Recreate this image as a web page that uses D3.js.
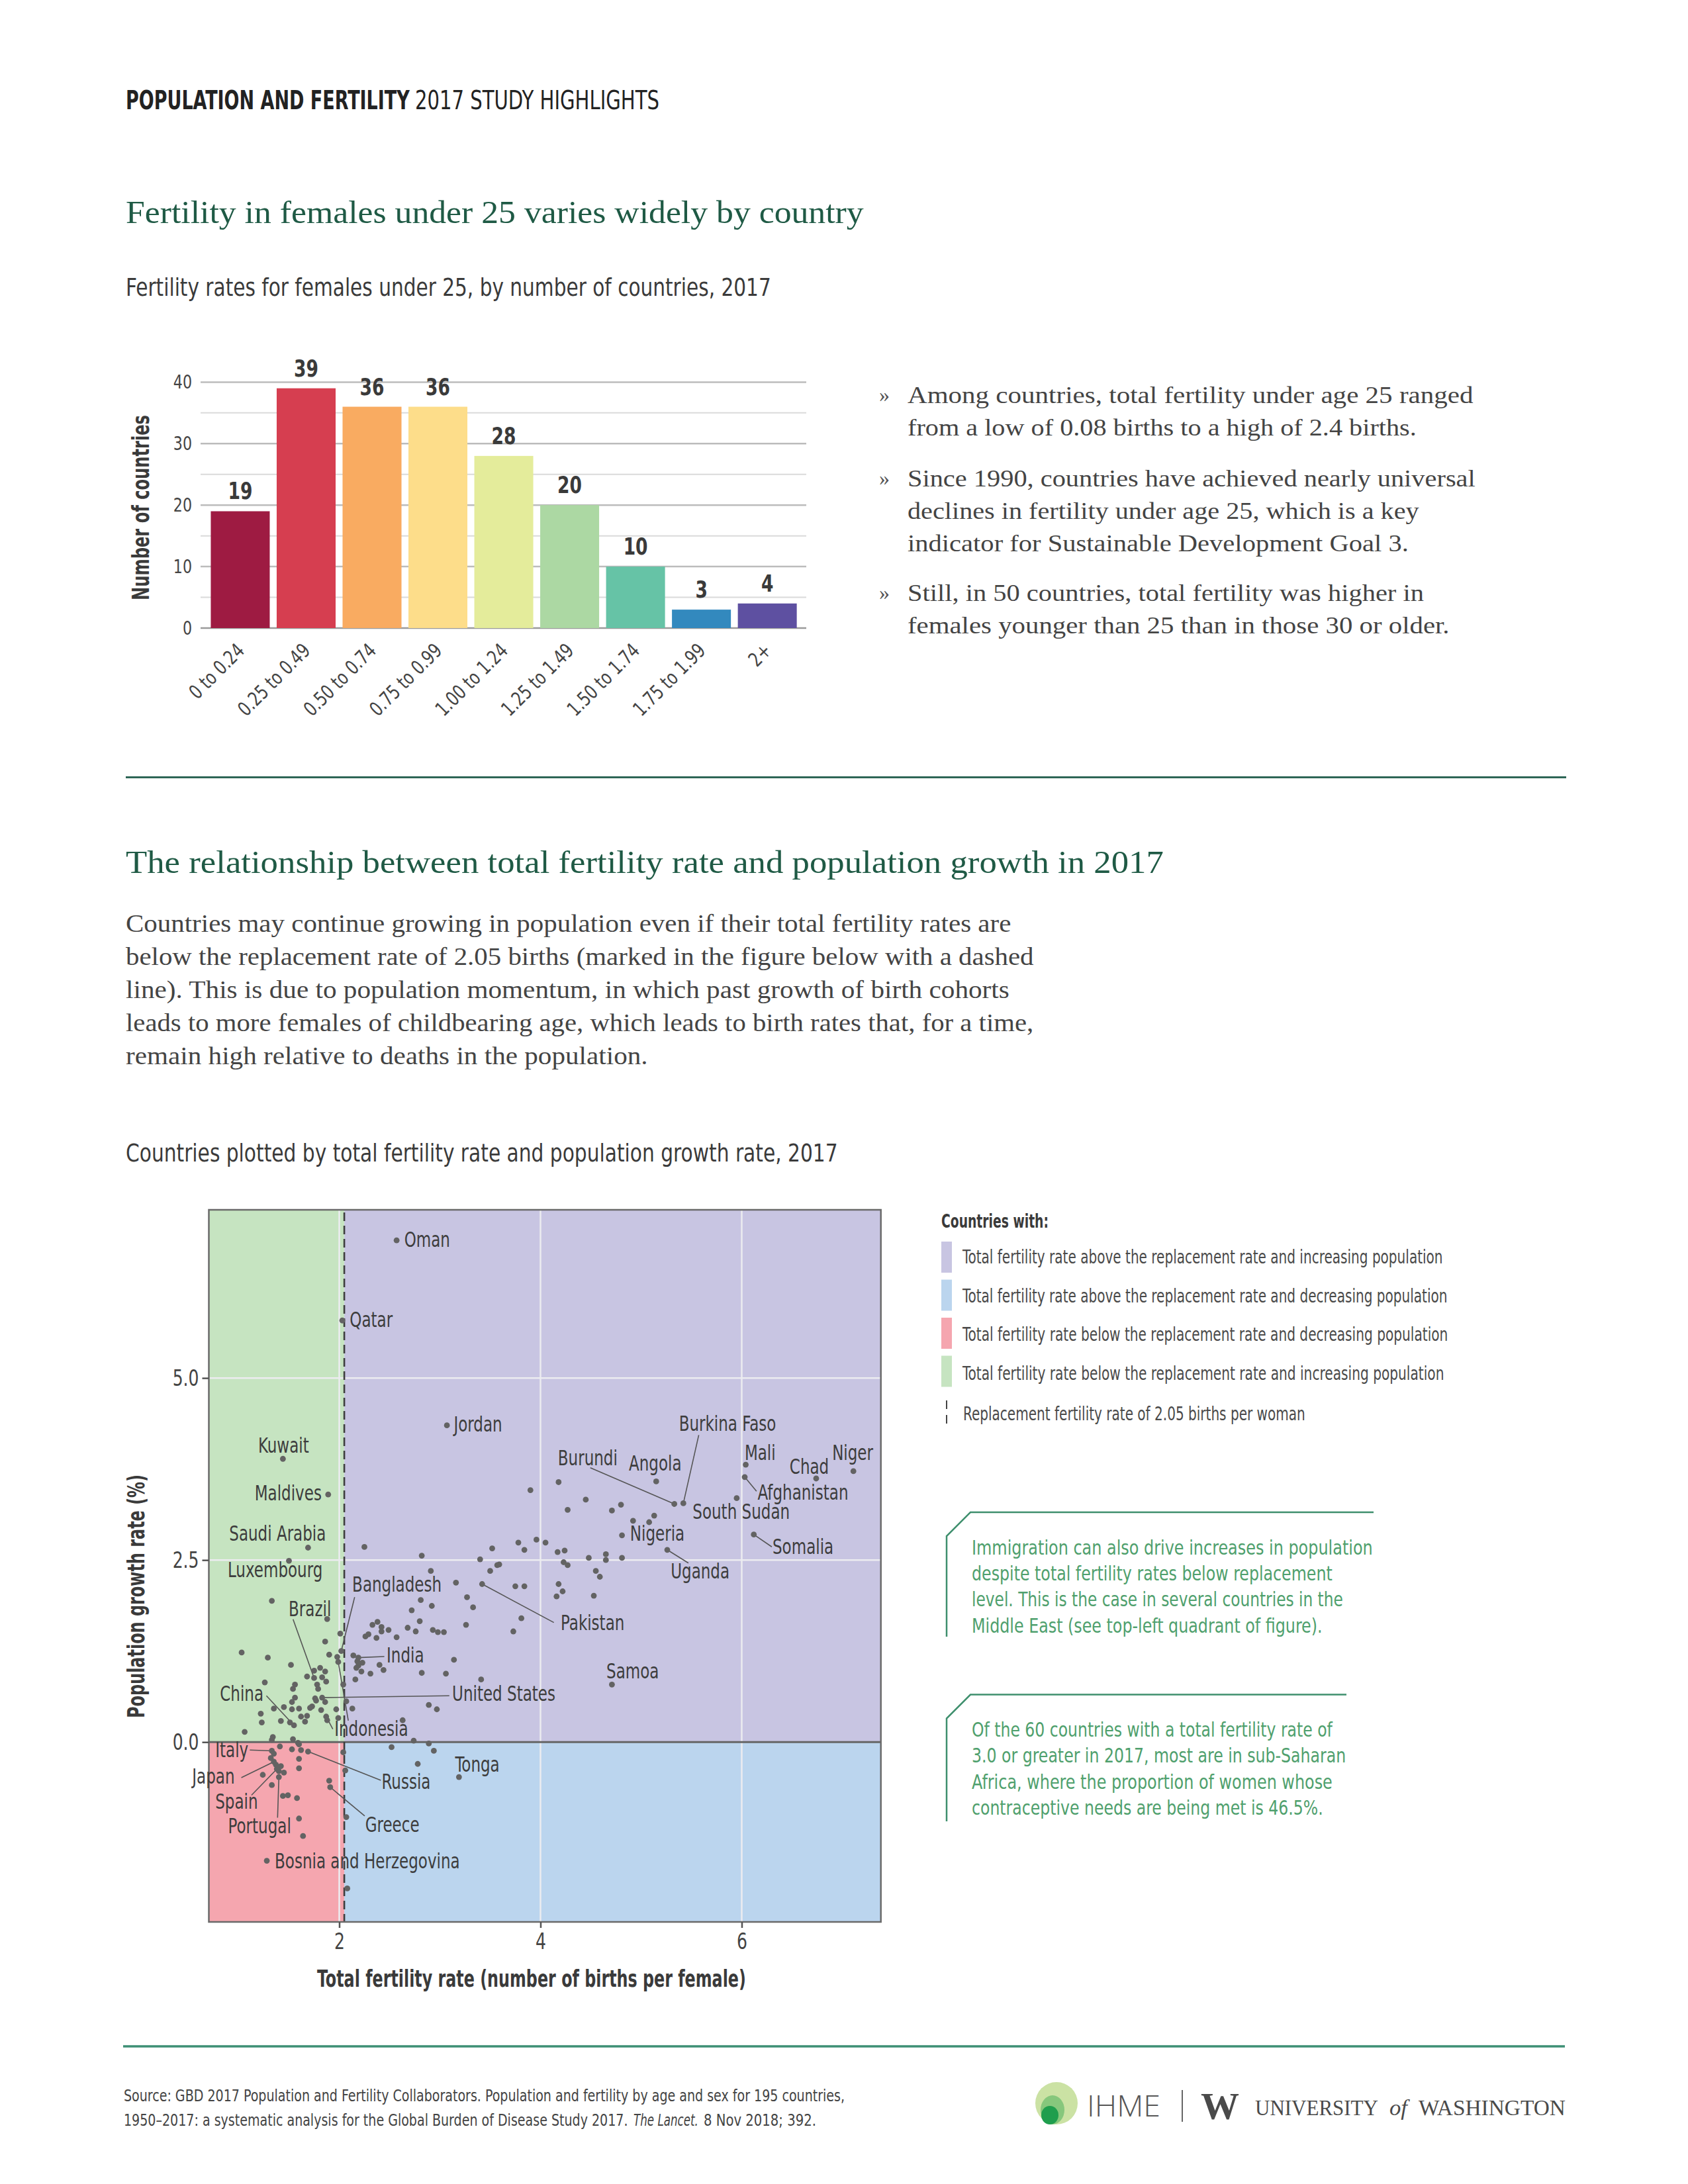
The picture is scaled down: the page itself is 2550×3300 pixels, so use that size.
<!DOCTYPE html>
<html><head><meta charset="utf-8">
<script src="https://cdn.jsdelivr.net/npm/d3@7"></script>
<style>html,body{margin:0;padding:0;background:#fff;}svg{display:block;}</style>
</head><body>
<svg id="page" width="2550" height="3300"></svg>
<script>
// ---------------- DATA ----------------
const barCategories = ["0 to 0.24","0.25 to 0.49","0.50 to 0.74","0.75 to 0.99","1.00 to 1.24","1.25 to 1.49","1.50 to 1.74","1.75 to 1.99","2+"];
const barCounts = [19,39,36,36,28,20,10,3,4];
const barYTicks = [0,10,20,30,40];

const labelNames  = ["Oman","Qatar","Jordan","Kuwait","Maldives","Saudi Arabia","Luxembourg","Bangladesh","Brazil","India","United States","China","Indonesia","Italy","Japan","Spain","Portugal","Russia","Greece","Bosnia and Herzegovina","Tonga","Burkina Faso","Burundi","Angola","Mali","Chad","Niger","Afghanistan","South Sudan","Nigeria","Uganda","Somalia","Pakistan","Samoa"];
const labelTfr    = [2.57,2.03,3.07,1.44,1.89,1.69,1.50,2.02,1.75,2.19,1.83,1.55,1.87,1.33,1.35,1.38,1.40,1.69,1.91,1.28,3.19,5.42,5.33,5.15,6.04,6.74,7.11,6.03,5.95,4.81,5.26,6.12,3.42,4.71];
const labelGrowth = [6.89,5.79,4.35,3.89,3.40,2.67,2.49,1.25,0.88,1.16,0.61,0.23,0.35,-0.12,-0.27,-0.37,-0.48,-0.13,-0.62,-1.63,-0.48,3.28,3.27,3.58,3.81,3.62,3.72,3.64,3.35,2.84,2.64,2.85,2.17,0.79];

const otherTfr = [3.90,4.18,4.45,4.27,4.71,4.80,5.13,4.92,5.08,3.96,4.05,4.17,4.24,4.48,4.65,4.65,4.81,4.23,4.27,4.55,4.59,4.18,4.22,4.16,4.53,
 2.25,2.82,2.91,3.16,3.40,3.52,3.78,3.84,3.50,3.57,3.59,3.75,3.84,1.33,1.88,1.03,1.29,1.52,1.86,1.90,2.01,1.98,1.99,
 2.33,2.38,2.42,2.42,2.49,2.26,2.29,2.37,2.57,2.68,2.76,2.72,2.81,2.92,2.80,2.93,2.98,3.04,3.27,3.33,3.26,3.81,3.73,
 2.14,2.18,2.23,2.19,2.17,2.22,2.31,2.40,2.44,2.16,2.82,3.06,3.14,3.41,2.89,2.97,2.63,2.04,2.07,2.13,1.99,1.97,
 1.26,1.56,1.54,1.75,1.81,1.86,1.68,1.83,1.87,1.78,1.79,1.56,1.53,1.76,1.77,1.86,1.73,1.71,1.82,1.60,1.53,1.45,1.35,
 1.22,1.23,1.42,1.51,1.62,1.68,1.66,1.88,1.06,1.34,1.33,1.54,1.59,2.74,2.89,2.94,2.52,2.04,1.41,1.53,1.62,1.35,1.32,
 1.37,1.42,1.40,1.45,1.24,1.33,1.44,1.49,1.58,1.60,1.60,1.60,1.64,1.90,2.06,2.07,2.08,2.78,1.60];
const otherGrowth = [3.46,3.57,3.33,3.19,3.18,3.26,3.11,3.04,3.02,2.78,2.74,2.61,2.63,2.53,2.58,2.50,2.53,2.47,2.43,2.35,2.27,2.17,2.07,2.00,2.01,
 2.68,2.56,2.35,2.19,2.51,2.66,2.74,2.64,2.35,2.43,2.44,2.14,2.14,1.94,1.69,1.23,1.16,1.06,1.38,1.20,1.49,1.17,1.10,
 1.61,1.65,1.58,1.52,1.54,1.45,1.48,1.43,1.44,1.57,1.52,1.81,1.95,1.87,1.66,1.54,1.51,1.51,1.99,1.85,1.61,1.70,1.52,
 1.19,1.11,1.09,1.05,1.02,0.97,0.94,1.06,0.99,0.86,0.95,0.94,1.13,0.86,0.51,0.45,0.30,0.79,0.56,0.46,0.33,0.45,
 0.82,0.79,0.73,0.98,1.02,0.97,0.90,0.89,0.83,0.79,0.73,0.61,0.55,0.60,0.57,0.55,0.49,0.47,0.44,0.46,0.45,0.48,0.46,
 0.39,0.27,0.29,0.27,0.35,0.36,0.28,0.30,0.14,0.07,0.03,0.04,-0.01,0.02,-0.02,-0.12,-0.07,-0.14,-0.06,-0.10,-0.11,-0.16,-0.22,
 -0.31,-0.33,-0.40,-0.42,-0.45,-0.59,-0.74,-0.73,-0.77,-0.23,-0.36,-1.05,-1.29,-0.53,-0.39,-1.03,-2.01,-0.30,-0.03];

const scatterXTicks = [2,4,6];
const scatterYTicks = [0,2.5,5.0];
const replacementRate = 2.05;

const legendItems = ["Total fertility rate above the replacement rate and increasing population",
 "Total fertility rate above the replacement rate and decreasing population",
 "Total fertility rate below the replacement rate and decreasing population",
 "Total fertility rate below the replacement rate and increasing population"];

// ---------------- LAYOUT / STYLE ----------------
const barColors = ["#9e1b42","#d63e50","#f9ab61","#fddd8a","#e4ec9b","#acd8a3","#66c3a6","#3389be","#5e50a1"];
const quadColors = ["#c8c5e2","#bbd5ee","#f5a6af","#c6e4c1"];
const labelLayout = {
 "Oman":{x:2.646,y:6.80,a:"start"}, "Qatar":{x:2.104,y:5.70,a:"start"}, "Jordan":{x:3.138,y:4.268,a:"start"},
 "Kuwait":{x:1.446,y:3.974,a:"middle"}, "Maldives":{x:1.825,y:3.323,a:"end"},
 "Saudi Arabia":{x:1.387,y:2.762,a:"middle"}, "Luxembourg":{x:1.363,y:2.263,a:"middle"},
 "Bangladesh":{x:2.129,y:2.066,a:"start",lx:2.153,ly:1.990}, "Brazil":{x:1.497,y:1.733,a:"start",lx:1.541,ly:1.687},
 "India":{x:2.471,y:1.097,a:"start",lx:2.448,ly:1.175}, "United States":{x:3.122,y:0.567,a:"start",lx:3.094,ly:0.636},
 "China":{x:0.814,y:0.567,a:"start",lx:1.276,ly:0.636}, "Indonesia":{x:1.952,y:0.088,a:"start",lx:1.936,ly:0.179},
 "Italy":{x:0.768,y:-0.206,a:"start",lx:1.111,ly:-0.109}, "Japan":{x:0.538,y:-0.570,a:"start",lx:1.027,ly:-0.488},
 "Spain":{x:0.768,y:-0.912,a:"start",lx:1.128,ly:-0.730}, "Portugal":{x:0.895,y:-1.251,a:"start",lx:1.387,ly:-1.039},
 "Russia":{x:2.421,y:-0.639,a:"start",lx:2.413,ly:-0.524}, "Greece":{x:2.258,y:-1.236,a:"start",lx:2.253,ly:-1.015},
 "Bosnia and Herzegovina":{x:1.359,y:-1.73,a:"start"}, "Tonga":{x:3.152,y:-0.403,a:"start"},
 "Burkina Faso":{x:5.376,y:4.271,a:"start",lx:5.573,ly:4.216}, "Burundi":{x:4.173,y:3.798,a:"start",lx:4.495,ly:3.768},
 "Angola":{x:4.878,y:3.732,a:"start"}, "Mali":{x:6.029,y:3.877,a:"start"}, "Chad":{x:6.476,y:3.680,a:"start"},
 "Niger":{x:6.899,y:3.877,a:"start"}, "Afghanistan":{x:6.158,y:3.329,a:"start",lx:6.147,ly:3.444},
 "South Sudan":{x:5.512,y:3.065,a:"start"}, "Nigeria":{x:4.890,y:2.762,a:"start"},
 "Uganda":{x:5.294,y:2.247,a:"start",lx:5.470,ly:2.459}, "Somalia":{x:6.306,y:2.581,a:"start",lx:6.299,ly:2.681},
 "Pakistan":{x:4.201,y:1.536,a:"start",lx:4.133,ly:1.642}, "Samoa":{x:4.655,y:0.876,a:"start"}
};
const extraLeaders = [[1.99,1.10,2.09,0.294]];

const SANS = "'Liberation Sans Narrow','Arial Narrow','DejaVu Sans Condensed',sans-serif";
const SERIF = "'Liberation Serif','DejaVu Serif',serif";
const svg = d3.select("#page");

// text helper: horizontal condensing done with a transform so that the box really shrinks
function addText(parent, x, y, str, o = {}) {
  const t = parent.append("text").attr("x", 0).attr("y", 0)
    .attr("font-family", o.family || SANS).attr("font-size", o.size || 30)
    .attr("font-weight", o.weight || "normal").attr("fill", o.fill || "#444")
    .attr("text-anchor", o.anchor || "start");
  if (o.style) t.attr("font-style", o.style);
  t.text(str);
  let k = 1;
  if (o.len) k = o.len / t.node().getComputedTextLength();
  t.attr("transform", `translate(${x},${y})${o.rot ? ` rotate(${o.rot})` : ""} scale(${k},1)`);
  return t;
}
function condense(sel, k, prefix) {
  sel.each(function () {
    const t = d3.select(this);
    const x = +t.attr("x") || 0, y = +t.attr("y") || 0;
    t.attr("x", 0).attr("y", 0)
     .attr("transform", `${prefix || ""} translate(${x},${y}) scale(${k},1)`);
  });
}

// ---------------- HEADER ----------------
addText(svg, 190, 165, "POPULATION AND FERTILITY", {size: 39, weight: "bold", fill: "#222", len: 429});
addText(svg, 627, 165, "2017 STUDY HIGHLIGHTS", {size: 39, fill: "#222", len: 369});

addText(svg, 190, 337, "Fertility in females under 25 varies widely by country", {family: SERIF, size: 48, fill: "#1f5a45", len: 1115});
addText(svg, 190, 447, "Fertility rates for females under 25, by number of countries, 2017", {size: 38, fill: "#3a3a3a", len: 975});

// ---------------- BAR CHART ----------------
const bg = svg.append("g");
const barX = d3.scaleBand().domain(barCategories).range([313.2, 1208.9]).paddingInner(0.1055).paddingOuter(0.0527);
const barY = d3.scaleLinear().domain([0, 40]).range([949, 577.4]);
bg.selectAll("line.grid").data(d3.range(5, 41, 5)).join("line")
  .attr("x1", 303).attr("x2", 1218).attr("y1", d => barY(d)).attr("y2", d => barY(d))
  .attr("stroke", d => d % 10 === 0 ? "#bcbcbc" : "#dadada").attr("stroke-width", d => d % 10 === 0 ? 2.5 : 2);
bg.append("line").attr("x1", 303).attr("x2", 1218).attr("y1", barY(0)).attr("y2", barY(0)).attr("stroke", "#9a9a9a").attr("stroke-width", 2.5);
const byAxis = bg.append("g").attr("transform", "translate(303,0)")
  .call(d3.axisLeft(barY).tickValues(barYTicks).tickSize(0).tickPadding(13));
byAxis.select(".domain").remove();
byAxis.selectAll("text").attr("font-family", SANS).attr("font-size", 29).attr("fill", "#444");
condense(byAxis.selectAll("text"), 0.85);
bg.selectAll("rect.bar").data(barCounts).join("rect")
  .attr("x", (d, i) => barX(barCategories[i])).attr("width", barX.bandwidth())
  .attr("y", d => barY(d)).attr("height", d => barY(0) - barY(d))
  .attr("fill", (d, i) => barColors[i]);
const vals = bg.selectAll("text.val").data(barCounts).join("text")
  .attr("x", (d, i) => barX(barCategories[i]) + barX.bandwidth() / 2).attr("y", d => barY(d) - 18)
  .attr("text-anchor", "middle").attr("font-family", SANS).attr("font-weight", "bold")
  .attr("font-size", 36).attr("fill", "#3a3a3a").text(d => d);
condense(vals, 0.82);
const bxAxis = bg.append("g").attr("transform", `translate(0,${barY(0)})`)
  .call(d3.axisBottom(barX).tickSize(0));
bxAxis.select(".domain").remove();
bxAxis.selectAll("text").attr("x", 0).attr("y", 0).attr("dy", 0).attr("text-anchor", "end")
  .attr("font-family", SANS).attr("font-size", 30).attr("fill", "#444");
condense(bxAxis.selectAll("text"), 0.85, "translate(8,36) rotate(-45)");
addText(bg, 225, 767, "Number of countries", {size: 35, weight: "bold", fill: "#3a3a3a", anchor: "middle", len: 280, rot: -90});

// bullets
const bullets = [
  [["Among countries, total fertility under age 25 ranged", 609.3, 855], ["from a low of 0.08 births to a high of 2.4 births.", 658.3, 769]],
  [["Since 1990, countries have achieved nearly universal", 735, 858], ["declines in fertility under age 25, which is a key", 784, 773], ["indicator for Sustainable Development Goal 3.", 832.7, 757]],
  [["Still, in 50 countries, total fertility was higher in", 908.3, 780], ["females younger than 25 than in those 30 or older.", 956.7, 819]]
];
bullets.forEach(b => {
  addText(svg, 1328, b[0][1] - 2, "»", {family: SERIF, size: 32, fill: "#555"});
  b.forEach(l => addText(svg, 1371, l[1], l[0], {family: SERIF, size: 35, fill: "#444", len: l[2]}));
});

// rule
svg.append("line").attr("x1", 190).attr("x2", 2366).attr("y1", 1174.5).attr("y2", 1174.5).attr("stroke", "#2e6656").attr("stroke-width", 3);

// ---------------- SECTION 2 TEXT ----------------
addText(svg, 190, 1318.6, "The relationship between total fertility rate and population growth in 2017", {family: SERIF, size: 48, fill: "#1f5a45", len: 1568});
const para = [
  ["Countries may continue growing in population even if their total fertility rates are", 1338],
  ["below the replacement rate of 2.05 births (marked in the figure below with a dashed", 1372],
  ["line). This is due to population momentum, in which past growth of birth cohorts", 1335],
  ["leads to more females of childbearing age, which leads to birth rates that, for a time,", 1372],
  ["remain high relative to deaths in the population.", 789]
];
para.forEach((p, i) => addText(svg, 190, 1408 + i * 50, p[0], {family: SERIF, size: 37, fill: "#444", len: p[1]}));
addText(svg, 190, 1755, "Countries plotted by total fertility rate and population growth rate, 2017", {size: 38, fill: "#3a3a3a", len: 1076});

// ---------------- SCATTER ----------------
const sg = svg.append("g");
const sx = d3.scaleLinear().domain([0.704, 7.383]).range([315.5, 1330.7]);
const sy = d3.scaleLinear().domain([-2.47, 7.31]).range([2904, 1828]);
const [x0, x1] = sx.domain(), [y0, y1] = sy.domain();
const quads = [[replacementRate, x1, 0, y1], [replacementRate, x1, y0, 0], [x0, replacementRate, y0, 0], [x0, replacementRate, 0, y1]];
sg.selectAll("rect.q").data(quads).join("rect")
  .attr("x", d => sx(d[0])).attr("width", d => sx(d[1]) - sx(d[0]))
  .attr("y", d => sy(d[3])).attr("height", d => sy(d[2]) - sy(d[3]))
  .attr("fill", (d, i) => quadColors[i]);
sg.selectAll("line.gx").data(scatterXTicks).join("line")
  .attr("x1", d => sx(d)).attr("x2", d => sx(d)).attr("y1", sy(y0)).attr("y2", sy(y1))
  .attr("stroke", "#ececf0").attr("stroke-width", 2.5);
sg.selectAll("line.gy").data(scatterYTicks.filter(d => d !== 0)).join("line")
  .attr("x1", sx(x0)).attr("x2", sx(x1)).attr("y1", d => sy(d)).attr("y2", d => sy(d))
  .attr("stroke", "#ececf0").attr("stroke-width", 2.5);
sg.append("line").attr("x1", sx(x0)).attr("x2", sx(x1)).attr("y1", sy(0)).attr("y2", sy(0)).attr("stroke", "#666").attr("stroke-width", 3);
sg.append("line").attr("x1", sx(replacementRate)).attr("x2", sx(replacementRate)).attr("y1", sy(y1) + 4).attr("y2", sy(y0))
  .attr("stroke", "#3d3d3d").attr("stroke-width", 2.6).attr("stroke-dasharray", "13,7");
sg.append("rect").attr("x", sx(x0)).attr("y", sy(y1)).attr("width", sx(x1) - sx(x0)).attr("height", sy(y0) - sy(y1))
  .attr("fill", "none").attr("stroke", "#6a6a6a").attr("stroke-width", 2.5);
const syAxis = sg.append("g").attr("transform", `translate(${sx(x0)},0)`)
  .call(d3.axisLeft(sy).tickValues(scatterYTicks).tickFormat(d3.format(".1f")).tickSize(10).tickPadding(5));
syAxis.select(".domain").remove();
syAxis.selectAll("line").attr("stroke", "#555").attr("stroke-width", 2.5);
syAxis.selectAll("text").attr("font-family", SANS).attr("font-size", 34).attr("fill", "#444");
condense(syAxis.selectAll("text"), 0.82);
const sxAxis = sg.append("g").attr("transform", `translate(0,${sy(y0)})`)
  .call(d3.axisBottom(sx).tickValues(scatterXTicks).tickFormat(d3.format("d")).tickSize(9).tickPadding(8));
sxAxis.select(".domain").remove();
sxAxis.selectAll("line").attr("stroke", "#555").attr("stroke-width", 2.5);
sxAxis.selectAll("text").attr("font-family", SANS).attr("font-size", 34).attr("fill", "#444");
condense(sxAxis.selectAll("text"), 0.82);

addText(sg, 803, 3002, "Total fertility rate (number of births per female)", {size: 35, weight: "bold", fill: "#3a3a3a", anchor: "middle", len: 648});
addText(sg, 218, 2412, "Population growth rate (%)", {size: 35, weight: "bold", fill: "#3a3a3a", anchor: "middle", len: 368, rot: -90});

// leaders
const leaderData = labelNames.map((n, i) => ({n, x: labelTfr[i], y: labelGrowth[i], L: labelLayout[n]})).filter(d => d.L.lx !== undefined);
sg.selectAll("line.lead").data(leaderData).join("line")
  .attr("x1", d => sx(d.x)).attr("y1", d => sy(d.y)).attr("x2", d => sx(d.L.lx)).attr("y2", d => sy(d.L.ly))
  .attr("stroke", "#555").attr("stroke-width", 1.6);
sg.selectAll("line.lead2").data(extraLeaders).join("line")
  .attr("x1", d => sx(d[0])).attr("y1", d => sy(d[1])).attr("x2", d => sx(d[2])).attr("y2", d => sy(d[3]))
  .attr("stroke", "#555").attr("stroke-width", 1.6);
// points
const allPts = otherTfr.map((t, i) => [t, otherGrowth[i]]).concat(labelTfr.map((t, i) => [t, labelGrowth[i]]));
sg.selectAll("circle.pt").data(allPts).join("circle")
  .attr("cx", d => sx(d[0])).attr("cy", d => sy(d[1])).attr("r", 4.4).attr("fill", "#636363");
// labels
const labs = sg.selectAll("text.lab").data(labelNames).join("text")
  .attr("x", d => sx(labelLayout[d].x)).attr("y", d => sy(labelLayout[d].y))
  .attr("text-anchor", d => labelLayout[d].a).attr("font-family", SANS).attr("font-size", 32).attr("fill", "#3d3d3d")
  .text(d => d);
condense(labs, 0.80);

// ---------------- LEGEND ----------------
const lg = svg.append("g");
addText(lg, 1422, 1854.5, "Countries with:", {size: 29, weight: "bold", fill: "#3a3a3a", len: 162});
lg.selectAll("rect.sw").data(legendItems).join("rect")
  .attr("x", 1422).attr("y", (d, i) => 1876 + i * 57.5).attr("width", 16).attr("height", 47)
  .attr("fill", (d, i) => quadColors[i]);
const legLens = [726, 733, 733.5, 727.5];
legendItems.forEach((d, i) => addText(lg, 1454, 1909 + i * 58.6, d, {size: 28, fill: "#4a4a4a", len: legLens[i]}));
lg.append("line").attr("x1", 1430).attr("x2", 1430).attr("y1", 2116).attr("y2", 2152)
  .attr("stroke", "#444").attr("stroke-width", 2).attr("stroke-dasharray", "13,9");
addText(lg, 1455, 2145.5, "Replacement fertility rate of 2.05 births per woman", {size: 28, fill: "#4a4a4a", len: 517});

// ---------------- CALLOUTS ----------------
const callouts = [
  {top: 2285, right: 2075, bottom: 2473, lines: [["Immigration can also drive increases in population", 606], ["despite total fertility rates below replacement", 545], ["level. This is the case in several countries in the", 561], ["Middle East (see top-left quadrant of figure).", 530]], base: 2348.5},
  {top: 2560.6, right: 2034, bottom: 2752, lines: [["Of the 60 countries with a total fertility rate of", 545], ["3.0 or greater in 2017, most are in sub-Saharan", 565.5], ["Africa, where the proportion of women whose", 545], ["contraceptive needs are being met is 46.5%.", 531]], base: 2624}
];
callouts.forEach(c => {
  svg.append("path").attr("d", `M${c.right},${c.top} L1466,${c.top} L1430,${c.top + 36} L1430,${c.bottom}`)
    .attr("fill", "none").attr("stroke", "#3e8f6d").attr("stroke-width", 2.5);
  c.lines.forEach((l, i) => addText(svg, 1468, c.base + i * 39.4, l[0], {size: 31, fill: "#4fa06d", len: l[1]}));
});

// ---------------- FOOTER ----------------
svg.append("line").attr("x1", 186).attr("x2", 2364).attr("y1", 3092).attr("y2", 3092).attr("stroke", "#3d8f74").attr("stroke-width", 3.5);
addText(svg, 187, 3175, "Source: GBD 2017 Population and Fertility Collaborators. Population and fertility by age and sex for 195 countries,", {size: 25, fill: "#444", len: 1090});
addText(svg, 187, 3211.7, "1950–2017: a systematic analysis for the Global Burden of Disease Study 2017.", {size: 25, fill: "#444", len: 762});
addText(svg, 957, 3211.7, "The Lancet.", {size: 25, fill: "#444", style: "italic", len: 98});
addText(svg, 1063, 3211.7, "8 Nov 2018; 392.", {size: 25, fill: "#444", len: 170});

// logo
const logo = svg.append("g");
logo.append("ellipse").attr("cx", 1596).attr("cy", 3178).attr("rx", 32).attr("ry", 32).attr("fill", "#cbe2a4");
logo.append("ellipse").attr("cx", 1590).attr("cy", 3188).attr("rx", 18).attr("ry", 22).attr("fill", "#86c77c");
logo.append("ellipse").attr("cx", 1586).attr("cy", 3196).attr("rx", 13).attr("ry", 14).attr("fill", "#1f9e4d");
addText(logo, 1642, 3198, "IHME", {family: "'Open Sans',sans-serif", size: 44, fill: "#555", len: 115}).attr("font-weight", 300);
logo.append("line").attr("x1", 1786).attr("x2", 1786).attr("y1", 3158).attr("y2", 3206).attr("stroke", "#666").attr("stroke-width", 2);
addText(logo, 1814, 3202, "W", {family: SERIF, size: 58, weight: "bold", fill: "#4a4a4a", len: 58});
addText(logo, 1896, 3196, "UNIVERSITY", {family: SERIF, size: 33, fill: "#4a4a4a", len: 186});
addText(logo, 2099, 3196, "of", {family: SERIF, size: 33, fill: "#4a4a4a", style: "italic", len: 27});
addText(logo, 2143, 3196, "WASHINGTON", {family: SERIF, size: 33, fill: "#4a4a4a", len: 222});
</script>
</body></html>
